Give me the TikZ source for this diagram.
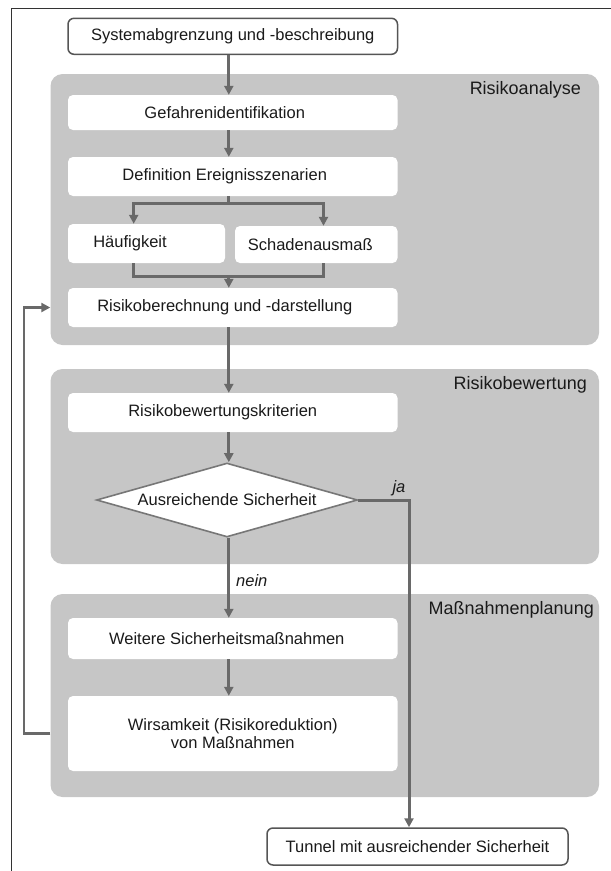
\documentclass[tikz,border=0pt]{standalone}
\usepackage{fontspec}
\setmainfont{Liberation Sans}
\usetikzlibrary{shapes.geometric,arrows.meta}
\definecolor{regiongray}{HTML}{C6C6C6}
\definecolor{conngray}{HTML}{696969}
\definecolor{bordergray}{HTML}{555555}
\definecolor{diagray}{HTML}{777777}
\definecolor{txt}{HTML}{1A1A1A}
\begin{document}
\begin{tikzpicture}[x=1pt,y=-1pt,
  region/.style={fill=regiongray, rounded corners=12pt, minimum width=548.5pt, inner sep=0pt},
  boxtext/.style={font=\fontsize{16.5}{18.5}\selectfont, text=txt},
  wbox/.style={boxtext, fill=white, rounded corners=5pt, inner sep=0pt, align=center},
  term/.style={boxtext, fill=white, draw=bordergray, line width=1.5pt, rounded corners=6pt, inner sep=0pt},
  regionlabel/.style={font=\fontsize{18}{20}\selectfont, text=txt, anchor=east, inner sep=0pt},
  line/.style={draw=conngray, line width=3pt},
  arr/.style={line, -{Triangle[length=9pt,width=9pt]}},
  edgelabel/.style={font=\itshape\fontsize{16.5}{18}\selectfont, text=txt, inner sep=0pt},
  frameline/.style={draw=black!80, line width=1.2pt},
]
\useasboundingbox (0,0) rectangle (611,871);
% outer frame
\draw[frameline] (11.5,871) -- (11.5,8.5) -- (611,8.5);

% regions
\node[region, minimum height=271pt] (ra) at (324.75,209.5) {};
\node[region, minimum height=195pt] (rb) at (324.75,466.5) {};
\node[region, minimum height=203pt] (mp) at (324.75,695.5) {};
\node[regionlabel] (lra) at (581,90) {Risikoanalyse};
\node[regionlabel] (lrb) at (587,385) {Risikobewertung};
\node[regionlabel] (lmp) at (594,610) {Maßnahmenplanung};

% terminal boxes
\node[term, minimum width=329.5pt, minimum height=36pt] (sys) at (232.75,36.3) {Systemabgrenzung und -beschreibung};
\node[term, minimum width=301pt, minimum height=37pt] (tun) at (417.5,846.5) {Tunnel mit ausreichender Sicherheit};

% white boxes
\node[wbox, minimum width=329.5pt, minimum height=35pt] (gef) at (232.75,112.5) {\kern-16pt Gefahrenidentifikation};
\node[wbox, minimum width=329.5pt, minimum height=39pt] (def) at (232.75,176.5) {\kern-16pt Definition Ereignisszenarien};
\node[wbox, minimum width=157pt, minimum height=39pt] (hau) at (146.5,243.5) {\kern-33pt Häufigkeit};
\node[wbox, minimum width=162.5pt, minimum height=37pt] (sch) at (316.25,244.5) {\kern-12pt Schadenausmaß};
\node[wbox, minimum width=329.5pt, minimum height=39pt] (rber) at (232.75,307.5) {\kern-16pt Risikoberechnung und -darstellung};
\node[wbox, minimum width=329.5pt, minimum height=39pt] (krit) at (232.75,412.5) {\kern-20pt Risikobewertungskriterien};
\node[diamond, draw=diagray, fill=white, line width=1.6pt, boxtext, shape aspect=3.5, inner sep=0pt, minimum width=261pt, minimum height=74pt] (dia) at (227,500) {Ausreichende Sicherheit};
\node[wbox, minimum width=329.5pt, minimum height=41pt] (wei) at (232.75,638.5) {\kern-12pt Weitere Sicherheitsmaßnahmen};
\node[wbox, minimum width=329.5pt, minimum height=75pt] (wir) at (232.75,733.5) {Wirsamkeit (Risikoreduktion)\\von Maßnahmen};

% axis coordinates
\coordinate (ax) at (228.8,0);
\coordinate (split) at (228.8,203);
\coordinate (merge) at (228.8,276);
\coordinate (fbx) at (24,0);

% connectors
\draw[arr] (sys.south -| ax) -- (gef.north -| ax);
\draw[arr] (gef.south -| ax) -- (def.north -| ax);
\draw[line] (def.south -| ax) -- (split);
\draw[arr] (split) -| ([xshift=-12.8pt]hau.north);
\draw[arr] (split) -| ([xshift=7.25pt]sch.north);
\draw[line] ([xshift=-12.8pt]hau.south) |- (merge) -| ([xshift=7.25pt]sch.south);
\draw[arr] (merge) -- (rber.north -| ax);
\draw[arr] (rber.south -| ax) -- (krit.north -| ax);
\draw[arr] (krit.south -| ax) -- (dia.north -| ax);
\draw[arr] (dia.south -| ax) -- (wei.north -| ax) node[edgelabel, pos=0.5, anchor=center, xshift=23pt, yshift=-3pt] (nein) {nein};
\draw[arr] (wei.south -| ax) -- (wir.north -| ax);
\draw[arr] (dia.east) -| ([xshift=-8.5pt]tun.north);
\node[edgelabel] (ja) at (399,488) {ja};
\draw[line, line width=2.4pt, -{Triangle[length=9pt,width=9pt]}] (mp.west |- wir.west) -| (fbx |- rber.west) -- (ra.west |- rber.west);
\end{tikzpicture}
\end{document}
